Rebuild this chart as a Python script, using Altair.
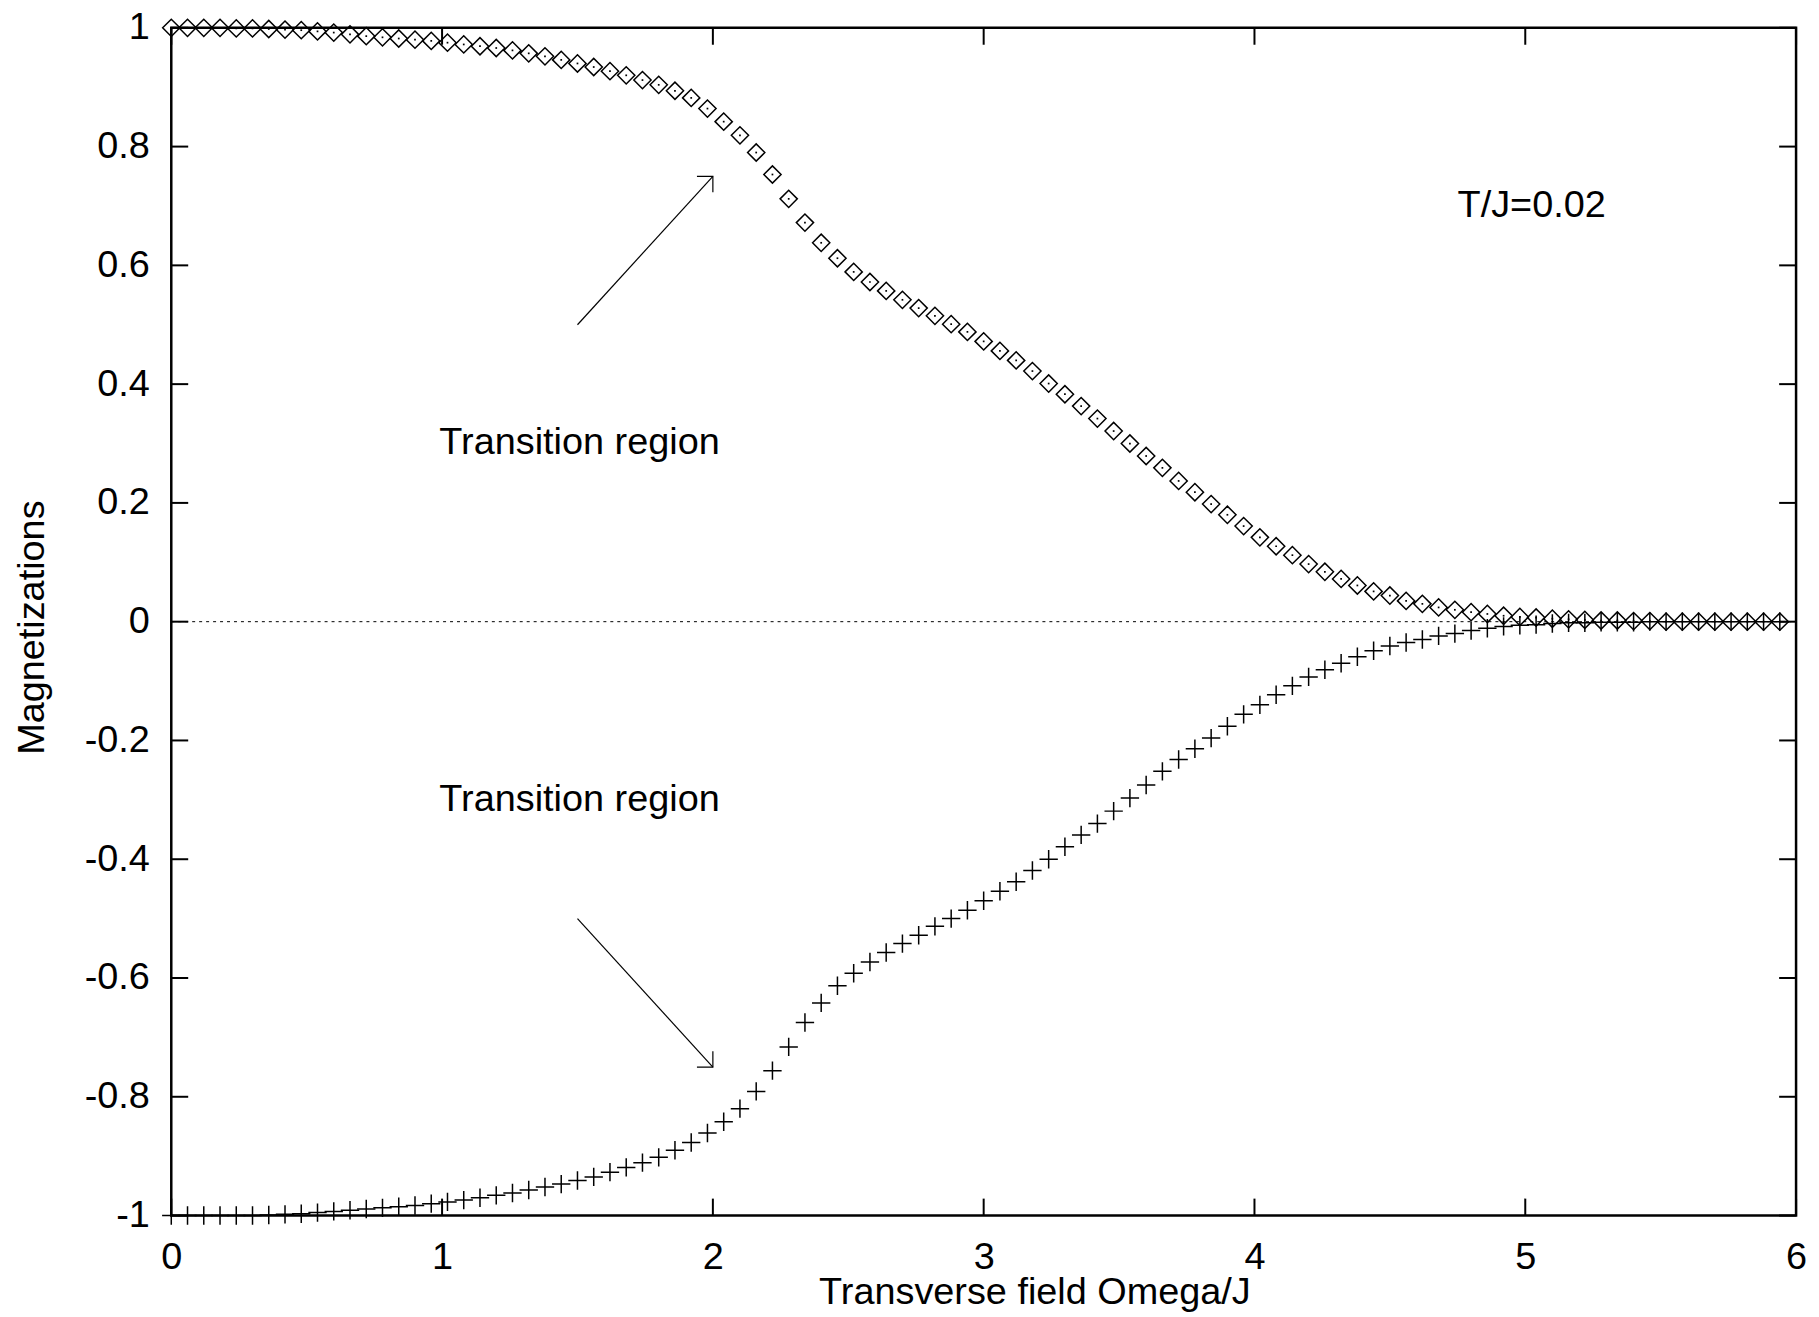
import altair as alt
import pandas as pd

# ---------------- data ----------------
X_VALUES = [0.00, 0.06, 0.12, 0.18, 0.24, 0.30, 0.36, 0.42, 0.48, 0.54,
            0.60, 0.66, 0.72, 0.78, 0.84, 0.90, 0.96, 1.02, 1.08, 1.14,
            1.20, 1.26, 1.32, 1.38, 1.44, 1.50, 1.56, 1.62, 1.68, 1.74,
            1.80, 1.86, 1.92, 1.98, 2.04, 2.10, 2.16, 2.22, 2.28, 2.34,
            2.40, 2.46, 2.52, 2.58, 2.64, 2.70, 2.76, 2.82, 2.88, 2.94,
            3.00, 3.06, 3.12, 3.18, 3.24, 3.30, 3.36, 3.42, 3.48, 3.54,
            3.60, 3.66, 3.72, 3.78, 3.84, 3.90, 3.96, 4.02, 4.08, 4.14,
            4.20, 4.26, 4.32, 4.38, 4.44, 4.50, 4.56, 4.62, 4.68, 4.74,
            4.80, 4.86, 4.92, 4.98, 5.04, 5.10, 5.16, 5.22, 5.28, 5.34,
            5.40, 5.46, 5.52, 5.58, 5.64, 5.70, 5.76, 5.82, 5.88, 5.94]

M_UPPER = [1.000, 1.000, 1.000, 1.000, 0.999, 0.999, 0.998, 0.997, 0.996, 0.994,
           0.992, 0.989, 0.986, 0.984, 0.982, 0.980, 0.978, 0.975, 0.972, 0.969,
           0.966, 0.962, 0.957, 0.952, 0.946, 0.940, 0.934, 0.927, 0.920, 0.912,
           0.904, 0.894, 0.882, 0.864, 0.842, 0.819, 0.790, 0.753, 0.712, 0.672,
           0.638, 0.612, 0.589, 0.572, 0.557, 0.542, 0.528, 0.515, 0.501, 0.488,
           0.472, 0.456, 0.440, 0.422, 0.401, 0.383, 0.363, 0.342, 0.321, 0.300,
           0.279, 0.259, 0.237, 0.218, 0.198, 0.180, 0.161, 0.142, 0.127, 0.112,
           0.097, 0.084, 0.072, 0.061, 0.051, 0.044, 0.035, 0.030, 0.024, 0.020,
           0.016, 0.013, 0.010, 0.008, 0.007, 0.005, 0.004, 0.003, 0.002, 0.002,
           0.001, 0.001, 0.000, 0.000, 0.000, 0.000, 0.000, 0.000, 0.000, 0.000]

M_LOWER = [-1.000, -1.000, -1.000, -1.000, -1.000, -1.000, -0.999, -0.998, -0.997, -0.995,
           -0.993, -0.991, -0.989, -0.987, -0.985, -0.983, -0.980, -0.977, -0.974, -0.970,
           -0.966, -0.962, -0.957, -0.952, -0.947, -0.941, -0.935, -0.927, -0.919, -0.911,
           -0.902, -0.890, -0.877, -0.861, -0.842, -0.820, -0.791, -0.756, -0.716, -0.675,
           -0.642, -0.613, -0.592, -0.573, -0.557, -0.542, -0.528, -0.513, -0.500, -0.486,
           -0.470, -0.454, -0.438, -0.419, -0.400, -0.379, -0.359, -0.340, -0.319, -0.297,
           -0.275, -0.252, -0.232, -0.214, -0.196, -0.176, -0.156, -0.140, -0.123, -0.108,
           -0.093, -0.081, -0.070, -0.059, -0.049, -0.041, -0.035, -0.030, -0.024, -0.020,
           -0.015, -0.011, -0.008, -0.006, -0.005, -0.003, -0.002, -0.002, -0.001, -0.001,
           -0.001, 0.000, 0.000, 0.000, 0.000, 0.000, 0.000, 0.000, 0.000, 0.000]

X_TICKS = [0, 1, 2, 3, 4, 5, 6]
Y_TICKS = [-1.0, -0.8, -0.6, -0.4, -0.2, 0.0, 0.2, 0.4, 0.6, 0.8, 1.0]
ZERO_LINE = [0.0]

LABEL_TEXT = ["Transition region", "Transition region", "T/J=0.02"]
LABEL_X = [0.99, 0.99, 4.75]
LABEL_Y = [0.30, -0.30, 0.70]

ARROW_X1 = [1.5, 1.5]
ARROW_Y1 = [0.5, -0.5]
ARROW_X2 = [2.0, 2.0]
ARROW_Y2 = [0.75, -0.75]

X_TITLE = "Transverse field Omega/J"
Y_TITLE = "Magnetizations"

# ---------------- layout ----------------
W, H = 1632, 1193
FONT = "Liberation Sans"
TICK_LEN = 17
FS = 38

series_df = pd.DataFrame({"x": X_VALUES, "up": M_UPPER, "low": M_LOWER})
xt_df = pd.DataFrame({"t": X_TICKS})
yt_df = pd.DataFrame({"t": Y_TICKS})
zero_df = pd.DataFrame({"y": ZERO_LINE})
lab_df = pd.DataFrame({"text": LABEL_TEXT, "x": LABEL_X, "y": LABEL_Y})
arr_df = pd.DataFrame({"x1": ARROW_X1, "y1": ARROW_Y1, "x2": ARROW_X2, "y2": ARROW_Y2})
arr_up_df = arr_df[arr_df["y2"] > 0]
arr_dn_df = arr_df[arr_df["y2"] < 0]

xs = alt.Scale(domain=[0, 6], nice=False, zero=False)
ys = alt.Scale(domain=[-1, 1], nice=False, zero=False)

x_axis = alt.Axis(values=X_TICKS, format="d", ticks=False, domain=False, grid=False,
                  labelFlush=False, labelOverlap=False,
                  labelFont=FONT, labelFontSize=FS, labelColor="black", labelPadding=23,
                  title=X_TITLE, titleFont=FONT, titleFontSize=FS, titleFontWeight="normal",
                  titleColor="black", titleX=867, titleY=88, titleAlign="center",
                  titleBaseline="alphabetic")
y_axis = alt.Axis(values=Y_TICKS, ticks=False, domain=False, grid=False,
                  labelFlush=False, labelOverlap=False,
                  labelExpr="(datum.value < 0 ? '-' : '') + format(abs(datum.value), '.1~f')",
                  labelFont=FONT, labelFontSize=FS, labelColor="black", labelPadding=22,
                  title=Y_TITLE, titleFont=FONT, titleFontSize=FS, titleFontWeight="normal",
                  titleColor="black", titleAngle=270, titleX=-128, titleY=602,
                  titleAlign="center", titleBaseline="alphabetic")


def X(field):
    return alt.X(field, scale=xs, axis=x_axis)


def Y(field):
    return alt.Y(field, scale=ys, axis=y_axis)


# main series first so its axes define the chart
crosses = alt.Chart(series_df).mark_point(
    shape="M-1,0L1,0M0,-1L0,1", size=340, filled=False, stroke="black", strokeWidth=1.5, opacity=1
).encode(x=X("x:Q"), y=Y("low:Q"))
diamonds = alt.Chart(series_df).mark_point(
    shape="diamond", size=300, filled=False, stroke="black", strokeWidth=1.5, opacity=1
).encode(x=X("x:Q"), y=Y("up:Q"))
dots = alt.Chart(series_df).mark_square(size=3, color="black", opacity=1).encode(
    x=X("x:Q"), y=Y("up:Q"))

zero = alt.Chart(zero_df).mark_rule(color="black", strokeWidth=1, strokeDash=[3, 4]).encode(
    y=Y("y:Q"), x=alt.value(0), x2=alt.value(W))

tick_style = dict(color="black", strokeWidth=2)
tb = alt.Chart(xt_df).mark_rule(**tick_style).encode(
    x=X("t:Q"), y=alt.value(H), y2=alt.value(H - TICK_LEN))
tt = alt.Chart(xt_df).mark_rule(**tick_style).encode(
    x=X("t:Q"), y=alt.value(0), y2=alt.value(TICK_LEN))
tl = alt.Chart(yt_df).mark_rule(**tick_style).encode(
    y=Y("t:Q"), x=alt.value(0), x2=alt.value(TICK_LEN))
tr = alt.Chart(yt_df).mark_rule(**tick_style).encode(
    y=Y("t:Q"), x=alt.value(W), x2=alt.value(W - TICK_LEN))

arrows = alt.Chart(arr_df).mark_rule(color="black", strokeWidth=1.2).encode(
    x=X("x1:Q"), y=Y("y1:Q"), x2="x2:Q", y2="y2:Q")
head_up = alt.Chart(arr_up_df).mark_point(
    shape="M-1,0L0,0L0,1", size=1024, filled=False, stroke="black", strokeWidth=1.2, opacity=1
).encode(x=X("x2:Q"), y=Y("y2:Q"))
head_dn = alt.Chart(arr_dn_df).mark_point(
    shape="M-1,0L0,0L0,-1", size=1024, filled=False, stroke="black", strokeWidth=1.2, opacity=1
).encode(x=X("x2:Q"), y=Y("y2:Q"))

labels = alt.Chart(lab_df).mark_text(align="left", baseline="middle", font=FONT,
                                     fontSize=FS, color="black").encode(
    x=X("x:Q"), y=Y("y:Q"), text="text:N")

chart = alt.layer(crosses, diamonds, dots, zero, tb, tt, tl, tr, arrows, head_up, head_dn, labels
).properties(
    width=W, height=H,
    padding={"left": 164, "top": 17, "right": 15, "bottom": 99},
    autosize=alt.AutoSizeParams(type="none"),
    background="white",
).configure_view(stroke="black", strokeWidth=2.5)

chart.save("out.html", embed_options={"renderer": "svg", "actions": False})
